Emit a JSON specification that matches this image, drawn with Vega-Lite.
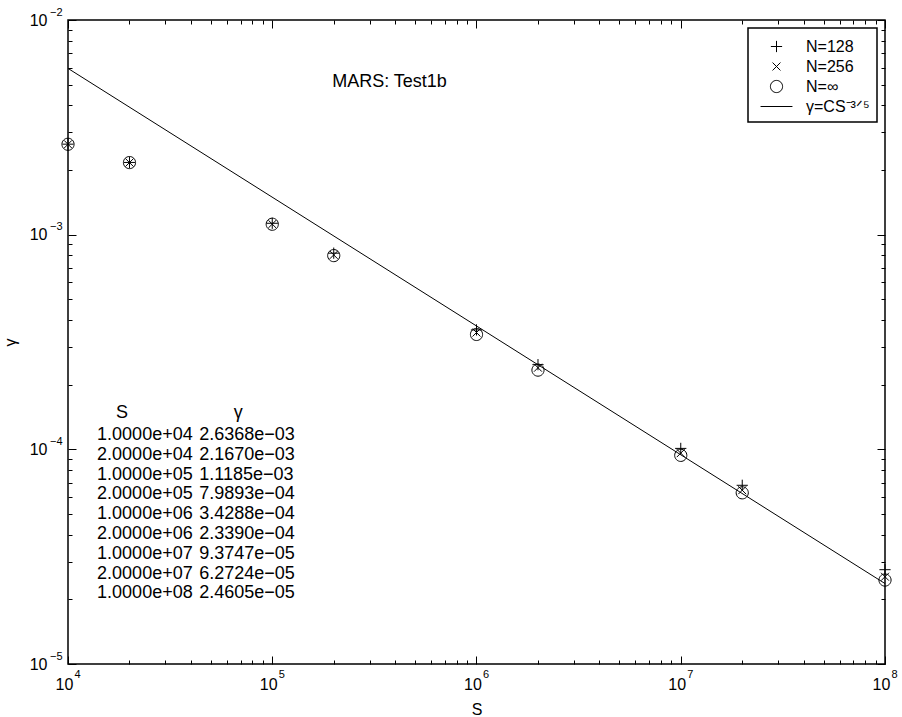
{
  "$schema": "https://vega.github.io/schema/vega-lite/v6.json",
  "width": 817,
  "height": 644,
  "autosize": {"type": "none"},
  "padding": {"left": 68, "top": 20, "right": 17, "bottom": 53},
  "background": "white",
  "config": {
    "font": "Liberation Sans",
    "view": {"stroke": "black", "strokeWidth": 1.5},
    "axis": {
      "grid": false, "domain": false, "tickColor": "black", "tickWidth": 1,
      "labelColor": "black", "labelFontSize": 16, "labelFont": "Liberation Sans",
      "titleFontSize": 16, "titleFontWeight": "normal", "titleColor": "black", "titleFont": "Liberation Sans",
      "labelFlush": false, "labelOverlap": false
    },
    "legend": {
      "orient": "top-right", "offset": 8, "strokeColor": "black", "strokeWidth": 1.5, "fillColor": "white",
      "padding": 7, "labelFontSize": 16, "labelColor": "black", "labelFont": "Liberation Sans",
      "symbolSize": 484, "symbolStrokeColor": "black", "symbolStrokeWidth": 1, "symbolFillColor": "transparent",
      "labelOffset": 18, "symbolOffset": 10, "rowPadding": 0, "cornerRadius": 0
    }
  },
  "data": {
    "values": [
      {"S": 10000, "gamma": 0.00264, "series": "N=128"},
      {"S": 20000, "gamma": 0.00217, "series": "N=128"},
      {"S": 100000, "gamma": 0.00113, "series": "N=128"},
      {"S": 200000, "gamma": 0.00082, "series": "N=128"},
      {"S": 1000000, "gamma": 0.00036, "series": "N=128"},
      {"S": 2000000, "gamma": 0.000248, "series": "N=128"},
      {"S": 10000000, "gamma": 0.000101, "series": "N=128"},
      {"S": 20000000, "gamma": 0.000068, "series": "N=128"},
      {"S": 100000000, "gamma": 0.0000275, "series": "N=128"},
      {"S": 10000, "gamma": 0.002637, "series": "N=256"},
      {"S": 20000, "gamma": 0.002167, "series": "N=256"},
      {"S": 100000, "gamma": 0.00112, "series": "N=256"},
      {"S": 200000, "gamma": 0.000805, "series": "N=256"},
      {"S": 1000000, "gamma": 0.00035, "series": "N=256"},
      {"S": 2000000, "gamma": 0.00024, "series": "N=256"},
      {"S": 10000000, "gamma": 0.000096, "series": "N=256"},
      {"S": 20000000, "gamma": 0.0000645, "series": "N=256"},
      {"S": 100000000, "gamma": 0.0000255, "series": "N=256"},
      {"S": 10000, "gamma": 0.0026368, "series": "N=∞"},
      {"S": 20000, "gamma": 0.0021670, "series": "N=∞"},
      {"S": 100000, "gamma": 0.0011185, "series": "N=∞"},
      {"S": 200000, "gamma": 0.00079893, "series": "N=∞"},
      {"S": 1000000, "gamma": 0.00034288, "series": "N=∞"},
      {"S": 2000000, "gamma": 0.00023390, "series": "N=∞"},
      {"S": 10000000, "gamma": 0.000093747, "series": "N=∞"},
      {"S": 20000000, "gamma": 0.000062724, "series": "N=∞"},
      {"S": 100000000, "gamma": 0.000024605, "series": "N=∞"}
    ]
  },
  "resolve": {"axis": {"x": "independent", "y": "independent"}},
  "layer": [
    {
      "data": {"values": [{"S": 10000, "gamma": 0.00595}, {"S": 100000000, "gamma": 0.0000237}]},
      "mark": {"type": "line", "color": "black", "strokeWidth": 1, "clip": false},
      "encoding": {
        "x": {
          "field": "S", "type": "quantitative",
          "scale": {"type": "log", "domain": [10000, 100000000], "nice": false},
          "axis": {
            "orient": "bottom", "values": [10000, 100000, 1000000, 10000000, 100000000],
            "tickSize": -8, "labelPadding": 20, "labelOffset": -4, "title": "S", "titlePadding": 9,
            "labelExpr": "'10'"
          }
        },
        "y": {
          "field": "gamma", "type": "quantitative",
          "scale": {"type": "log", "domain": [0.00001, 0.01], "nice": false},
          "axis": {
            "orient": "left", "values": [0.00001, 0.0001, 0.001, 0.01],
            "tickSize": -8, "labelPadding": 29, "title": "γ", "titlePadding": 11,
            "labelExpr": "'10'"
          }
        }
      }
    },
    {
      "mark": {"type": "point", "filled": false, "color": "black", "strokeWidth": 1, "size": 484, "opacity": 1, "clip": false},
      "encoding": {
        "x": {
          "field": "S", "type": "quantitative",
          "axis": {
            "orient": "bottom", "labels": false, "title": null, "tickSize": -4,
            "values": [20000, 30000, 40000, 50000, 60000, 70000, 80000, 90000, 200000, 300000, 400000, 500000, 600000, 700000, 800000, 900000, 2000000, 3000000, 4000000, 5000000, 6000000, 7000000, 8000000, 9000000, 20000000, 30000000, 40000000, 50000000, 60000000, 70000000, 80000000, 90000000]
          }
        },
        "y": {
          "field": "gamma", "type": "quantitative",
          "axis": {
            "orient": "left", "labels": false, "title": null, "tickSize": -4,
            "values": [0.00002, 0.00003, 0.00004, 0.00005, 0.00006, 0.00007, 0.00008, 0.00009, 0.0002, 0.0003, 0.0004, 0.0005, 0.0006, 0.0007, 0.0008, 0.0009, 0.002, 0.003, 0.004, 0.005, 0.006, 0.007, 0.008, 0.009]
          }
        },
        "shape": {
          "field": "series", "type": "nominal",
          "scale": {
            "domain": ["N=128", "N=256", "N=∞", "γ=CS⁻³ᐟ⁵"],
            "range": [
              "M-0.51,0L0.51,0M0,-0.51L0,0.51",
              "M-0.36,-0.36L0.36,0.36M-0.36,0.36L0.36,-0.36",
              "M0.553,0A0.553,0.553 0 1,1 -0.553,0A0.553,0.553 0 1,1 0.553,0Z",
              "M-1.45,0L1.45,0"
            ]
          },
          "legend": {"title": null}
        }
      }
    },
    {
      "data": {"values": [{}]},
      "mark": {"type": "text", "text": "MARS: Test1b", "fontSize": 18, "align": "center", "baseline": "middle", "color": "black"},
      "encoding": {
        "x": {"datum": 375000, "type": "quantitative", "axis": {"orient": "top", "labels": false, "title": null, "tickSize": -8, "values": [10000, 100000, 1000000, 10000000, 100000000]}},
        "y": {"datum": 0.00514, "type": "quantitative", "axis": {"orient": "right", "labels": false, "title": null, "tickSize": -8, "values": [0.00001, 0.0001, 0.001, 0.01]}}
      }
    },
    {
      "data": {"values": [{}]},
      "mark": {"type": "text", "text": "S", "fontSize": 18, "align": "center", "baseline": "middle", "color": "black"},
      "encoding": {
        "x": {
          "datum": 18400, "type": "quantitative",
          "axis": {
            "orient": "top", "labels": false, "title": null, "tickSize": -4,
            "values": [20000, 30000, 40000, 50000, 60000, 70000, 80000, 90000, 200000, 300000, 400000, 500000, 600000, 700000, 800000, 900000, 2000000, 3000000, 4000000, 5000000, 6000000, 7000000, 8000000, 9000000, 20000000, 30000000, 40000000, 50000000, 60000000, 70000000, 80000000, 90000000]
          }
        },
        "y": {
          "datum": 0.0001479, "type": "quantitative",
          "axis": {
            "orient": "right", "labels": false, "title": null, "tickSize": -4,
            "values": [0.00002, 0.00003, 0.00004, 0.00005, 0.00006, 0.00007, 0.00008, 0.00009, 0.0002, 0.0003, 0.0004, 0.0005, 0.0006, 0.0007, 0.0008, 0.0009, 0.002, 0.003, 0.004, 0.005, 0.006, 0.007, 0.008, 0.009]
          }
        }
      }
    },
    {
      "data": {"values": [{}]},
      "mark": {"type": "text", "text": "γ", "fontSize": 18, "align": "center", "baseline": "middle", "color": "black"},
      "encoding": {
        "x": {
          "datum": 68100, "type": "quantitative",
          "axis": {
            "orient": "bottom", "ticks": false, "tickSize": 0, "domain": false, "labelPadding": 4, "labelFontSize": 11,
            "labelAlign": "left", "labelBaseline": "top", "labelOffset": 6, "title": null,
            "values": [10000, 100000, 1000000, 10000000, 100000000],
            "labelExpr": "format(log(datum.value) / LN10, 'd')"
          }
        },
        "y": {
          "datum": 0.0001479, "type": "quantitative",
          "axis": {
            "orient": "left", "ticks": false, "tickSize": 0, "domain": false, "labelPadding": 6, "labelFontSize": 11,
            "labelAlign": "right", "labelBaseline": "middle", "labelOffset": -8, "title": null,
            "values": [0.00001, 0.0001, 0.001, 0.01],
            "labelExpr": "format(log(datum.value) / LN10, 'd')"
          }
        }
      }
    },
    {
      "data": {"values": [{}]},
      "mark": {
        "type": "text", "fontSize": 18, "align": "left", "baseline": "middle", "color": "black", "lineHeight": 19.8,
        "text": ["1.0000e+04", "2.0000e+04", "1.0000e+05", "2.0000e+05", "1.0000e+06", "2.0000e+06", "1.0000e+07", "2.0000e+07", "1.0000e+08"]
      },
      "encoding": {
        "x": {"datum": 13880, "type": "quantitative", "axis": null},
        "y": {"datum": 0.0001167, "type": "quantitative", "axis": null}
      }
    },
    {
      "data": {"values": [{}]},
      "mark": {
        "type": "text", "fontSize": 18, "align": "left", "baseline": "middle", "color": "black", "lineHeight": 19.8,
        "text": ["2.6368e−03", "2.1670e−03", "1.1185e−03", "7.9893e−04", "3.4288e−04", "2.3390e−04", "9.3747e−05", "6.2724e−05", "2.4605e−05"]
      },
      "encoding": {
        "x": {"datum": 43900, "type": "quantitative", "axis": null},
        "y": {"datum": 0.0001167, "type": "quantitative", "axis": null}
      }
    }
  ]
}
